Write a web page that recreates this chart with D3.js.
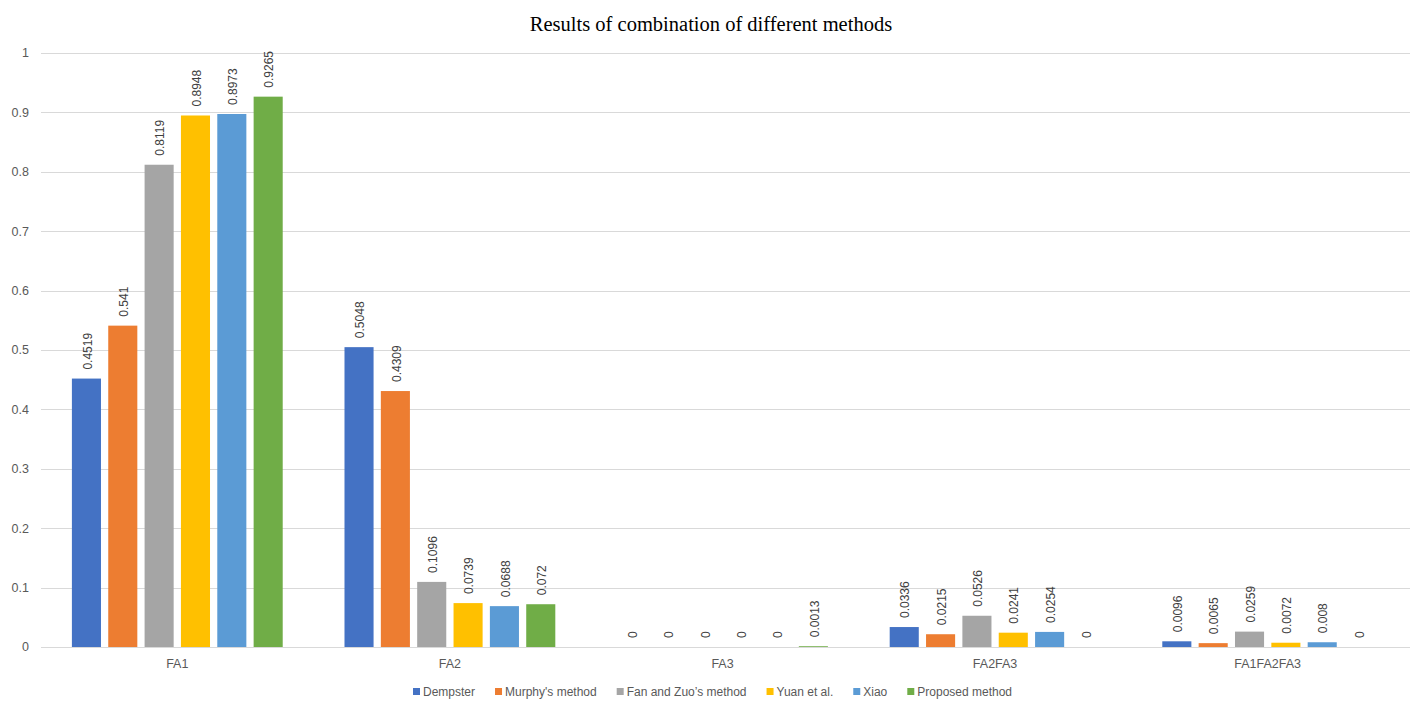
<!DOCTYPE html>
<html>
<head>
<meta charset="utf-8">
<script src="https://cdn.jsdelivr.net/npm/d3@7"></script>
<style>
body{margin:0;background:#fff;}
svg{display:block;}
</style>
</head>
<body>
<svg id="chart" width="1416" height="702"></svg>
<script>
const categories = ["FA1","FA2","FA3","FA2FA3","FA1FA2FA3"];
const seriesNames = ["Dempster","Murphy's method","Fan and Zuo\u2019s method","Yuan et al.","Xiao","Proposed method"];
const dempster = [0.4519,0.5048,0,0.0336,0.0096];
const murphy   = [0.541,0.4309,0,0.0215,0.0065];
const fanZuo   = [0.8119,0.1096,0,0.0526,0.0259];
const yuan     = [0.8948,0.0739,0,0.0241,0.0072];
const xiao     = [0.8973,0.0688,0,0.0254,0.008];
const proposed = [0.9265,0.072,0.0013,0,0];
const yTicks = [0,0.1,0.2,0.3,0.4,0.5,0.6,0.7,0.8,0.9,1];
const colors = ["#4472C4","#ED7D31","#A5A5A5","#FFC000","#5B9BD5","#70AD47"];

const seriesValues = [dempster,murphy,fanZuo,yuan,xiao,proposed];
const svg = d3.select("#chart");
const font = "'Liberation Sans', Arial, sans-serif";

// title
svg.append("text").attr("x",711).attr("y",31).attr("text-anchor","middle")
  .attr("font-family","'Liberation Serif','Times New Roman',serif").attr("font-size",20.5)
  .attr("fill","#000").text("Results of combination of different methods");

const y = d3.scaleLinear().domain([0,1]).range([647,53]);
const x0 = d3.scaleBand().domain(categories).range([41,1404]).paddingInner(0.2).paddingOuter(0.1);
const x1 = d3.scaleBand().domain(d3.range(seriesNames.length)).range([0,x0.bandwidth()]).paddingInner(0.2).paddingOuter(0.1);

// gridlines
svg.append("g").selectAll("line").data(yTicks).join("line")
  .attr("x1",41).attr("x2",1410)
  .attr("y1",d=>Math.round(y(d))+0.5).attr("y2",d=>Math.round(y(d))+0.5)
  .attr("stroke","#D9D9D9").attr("stroke-width",1);

// y labels
svg.append("g").selectAll("text").data(yTicks).join("text")
  .attr("x",29).attr("y",d=>y(d)).attr("dy","0.35em").attr("text-anchor","end")
  .attr("font-family",font).attr("font-size",12.5).attr("fill","#595959")
  .text(d=>d3.format("")(d));

// bars
const groups = svg.append("g").selectAll("g").data(categories).join("g")
  .attr("transform",c=>`translate(${x0(c)},0)`);
groups.each(function(c,ci){
  const g = d3.select(this);
  const vals = seriesValues.map((s,si)=>({si,v:s[ci]}));
  g.selectAll("rect").data(vals).join("rect")
    .attr("x",d=>x1(d.si)).attr("width",x1.bandwidth())
    .attr("y",d=>y(d.v)).attr("height",d=>y(0)-y(d.v))
    .attr("fill",d=>colors[d.si]);
  g.selectAll("text.lbl").data(vals).join("text").attr("class","lbl")
    .attr("transform",d=>`translate(${x1(d.si)+x1.bandwidth()/2+1},${y(d.v)-9}) rotate(-90)`)
    .attr("dy","0.35em").attr("text-anchor","start")
    .attr("font-family",font).attr("font-size",12).attr("fill","#404040")
    .text(d=>String(d.v));
});

// category labels
svg.append("g").selectAll("text").data(categories).join("text")
  .attr("x",c=>x0(c)+x0.bandwidth()/2).attr("y",664).attr("dy","0.35em")
  .attr("text-anchor","middle").attr("font-family",font).attr("font-size",12.5).attr("fill","#595959")
  .text(c=>c);

// legend
const leg = svg.append("g");
let lx = 413;
seriesNames.forEach((n,i)=>{
  const it = leg.append("g").attr("transform",`translate(${lx},692)`);
  it.append("rect").attr("x",0).attr("y",-4).attr("width",7).attr("height",7).attr("fill",colors[i]);
  const t = it.append("text").attr("x",10).attr("y",0).attr("dy","0.35em")
    .attr("font-family",font).attr("font-size",12).attr("fill","#595959").text(n);
  lx += 10 + t.node().getComputedTextLength() + 20;
});
</script>
</body>
</html>
